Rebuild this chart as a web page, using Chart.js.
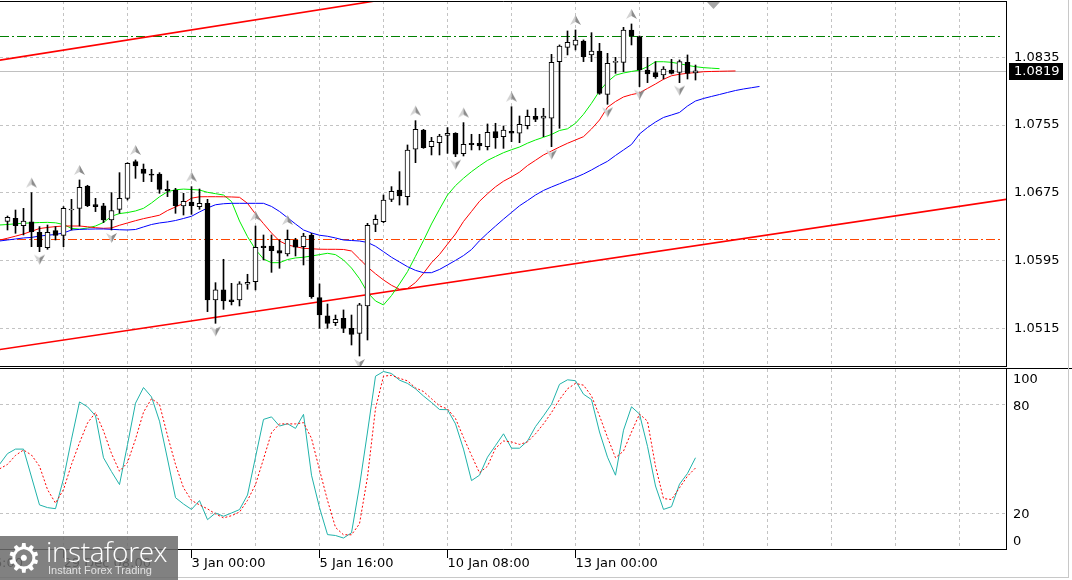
<!DOCTYPE html>
<html>
<head>
<meta charset="utf-8">
<script src="https://cdn.jsdelivr.net/npm/chart.js@4.4.0/dist/chart.umd.min.js"></script>
<style>
  html, body { margin: 0; padding: 0; background: #fff; }
  #wrap { position: relative; width: 1072px; height: 580px; overflow: hidden; background: #fff; }
  #main { position: absolute; left: 0; top: 0; }
  #stoch { position: absolute; left: 0; top: 368px; }
  #edgeR { position: absolute; left: 1068px; top: 0; width: 1px; height: 578px; background: #c8c8c8; }
  #edgeB { position: absolute; left: 0; top: 577px; width: 1069px; height: 1px; background: #c8c8c8; }
  #logo { position: absolute; left: 0; top: 536px; width: 178px; height: 44px; background: rgba(108, 108, 108, 0.86); color: #fff; }
  #logo span { position: absolute; white-space: nowrap; }
  #logo .gear { left: 6px; top: 2px; font: 40px/40px 'DejaVu Sans'; }
  #logo .big { left: 46px; top: 1px; font: 300 28px/28px 'Open Sans'; letter-spacing: -0.4px; }
  #logo .small { left: 48px; top: 29px; font: 11px/11px 'Liberation Sans'; color: #e2e2e2; }
</style>
</head>
<body>
<div id="wrap">
  <canvas id="main" width="1072" height="368"></canvas>
  <canvas id="stoch" width="1072" height="212"></canvas>
  <div id="edgeR"></div>
  <div id="edgeB"></div>
  <div id="logo"><span class="gear">⚙</span><span class="big">instaforex</span><span class="small">Instant Forex Trading</span></div>
</div>
<script>
// EURUSD H4 - candles, Alligator, Fractals, Stochastic

// candles, bar 0 .. 86
const opens = [1.06413, 1.06449, 1.06362, 1.06406, 1.06284, 1.06103, 1.06303, 1.06248, 1.06547, 1.06567,
  1.06831, 1.06610, 1.06595, 1.06429, 1.06555, 1.06685, 1.07118, 1.07031, 1.06972, 1.06972,
  1.06791, 1.06783, 1.06595, 1.06642, 1.06587, 1.06626, 1.05485, 1.05603, 1.05485, 1.05485,
  1.05670, 1.05701, 1.06122, 1.06122, 1.06067, 1.06028, 1.06193, 1.06114, 1.06252, 1.05512,
  1.05296, 1.05217, 1.05268, 1.05150, 1.05091, 1.05414, 1.06378, 1.06410, 1.06673, 1.06783,
  1.06705, 1.07264, 1.07492, 1.07295, 1.07342, 1.07429, 1.07453, 1.07213, 1.07335, 1.07335,
  1.07295, 1.07472, 1.07413, 1.07476, 1.07453, 1.07543, 1.07653, 1.07630, 1.07630, 1.08299,
  1.08468, 1.08492, 1.08543, 1.08378, 1.08425, 1.07913, 1.08291, 1.08291, 1.08673, 1.08594,
  1.08200, 1.08169, 1.08141, 1.08200, 1.08173, 1.08291, 1.08165];
const highs = [1.06476, 1.06547, 1.06567, 1.06752, 1.06351, 1.06370, 1.06351, 1.06587, 1.06673, 1.06902,
  1.06839, 1.06685, 1.06626, 1.06752, 1.06988, 1.07106, 1.07138, 1.07090, 1.07027, 1.06988,
  1.06890, 1.06803, 1.06744, 1.06823, 1.06795, 1.06673, 1.05689, 1.05965, 1.05681, 1.05701,
  1.05788, 1.06358, 1.06252, 1.06252, 1.06193, 1.06311, 1.06213, 1.06272, 1.06272, 1.05674,
  1.05437, 1.05307, 1.05367, 1.05307, 1.05445, 1.06390, 1.06488, 1.06724, 1.06823, 1.07000,
  1.07315, 1.07602, 1.07500, 1.07405, 1.07441, 1.07520, 1.07460, 1.07579, 1.07441, 1.07441,
  1.07563, 1.07571, 1.07539, 1.07767, 1.07657, 1.07728, 1.07748, 1.07748, 1.08385, 1.08496,
  1.08661, 1.08673, 1.08555, 1.08641, 1.08515, 1.08397, 1.08350, 1.08704, 1.08744, 1.08602,
  1.08350, 1.08299, 1.08240, 1.08326, 1.08319, 1.08378, 1.08259];
const lows = [1.06311, 1.06272, 1.06252, 1.06114, 1.06055, 1.06083, 1.06193, 1.06114, 1.06311, 1.06358,
  1.06587, 1.06528, 1.06398, 1.06311, 1.06508, 1.06665, 1.06921, 1.06882, 1.06882, 1.06744,
  1.06705, 1.06508, 1.06488, 1.06496, 1.06555, 1.05347, 1.05209, 1.05374, 1.05426, 1.05414,
  1.05611, 1.05603, 1.05957, 1.05811, 1.05859, 1.06004, 1.06004, 1.05898, 1.05504, 1.05150,
  1.05150, 1.05182, 1.05099, 1.04953, 1.04823, 1.05012, 1.06291, 1.06398, 1.06646, 1.06606,
  1.06606, 1.07106, 1.07275, 1.07197, 1.07197, 1.07216, 1.07177, 1.07185, 1.07256, 1.07256,
  1.07256, 1.07275, 1.07275, 1.07354, 1.07342, 1.07504, 1.07590, 1.07413, 1.07295, 1.07512,
  1.08378, 1.08437, 1.08299, 1.08299, 1.07913, 1.07795, 1.08161, 1.08181, 1.08496, 1.08004,
  1.08051, 1.08102, 1.08094, 1.08153, 1.08051, 1.08094, 1.08082];
const closes = [1.06461, 1.06362, 1.06417, 1.06291, 1.06114, 1.06284, 1.06248, 1.06567, 1.06559, 1.06815,
  1.06598, 1.06587, 1.06429, 1.06539, 1.06685, 1.07098, 1.07067, 1.06980, 1.06957, 1.06791,
  1.06776, 1.06598, 1.06650, 1.06598, 1.06626, 1.05485, 1.05603, 1.05473, 1.05465, 1.05674,
  1.05693, 1.06107, 1.06103, 1.06067, 1.06036, 1.06201, 1.06107, 1.06240, 1.05524, 1.05307,
  1.05209, 1.05256, 1.05150, 1.05079, 1.05426, 1.06366, 1.06437, 1.06665, 1.06768, 1.06713,
  1.07256, 1.07500, 1.07283, 1.07358, 1.07421, 1.07453, 1.07205, 1.07323, 1.07319, 1.07303,
  1.07464, 1.07401, 1.07492, 1.07453, 1.07559, 1.07653, 1.07618, 1.07657, 1.08291, 1.08484,
  1.08527, 1.08555, 1.08358, 1.08425, 1.07925, 1.08279, 1.08299, 1.08673, 1.08602, 1.08200,
  1.08153, 1.08122, 1.08212, 1.08161, 1.08299, 1.08161, 1.08189];

// Alligator lines, already shifted forward; first point sits at bar -1
const lineStart = -1;
const lips = [1.06370, 1.06376, 1.06384, 1.06391, 1.06395, 1.06399, 1.06401, 1.06396, 1.06376, 1.06330,
  1.06321, 1.06335, 1.06358, 1.06400, 1.06473, 1.06505, 1.06517, 1.06536, 1.06567, 1.06630,
  1.06703, 1.06763, 1.06786, 1.06794, 1.06789, 1.06783, 1.06756, 1.06740, 1.06724, 1.06648,
  1.06417, 1.06232, 1.06080, 1.05969, 1.05925, 1.05925, 1.05962, 1.05981, 1.05989, 1.06004,
  1.06020, 1.06036, 1.06020, 1.05957, 1.05862, 1.05736, 1.05573, 1.05473, 1.05426, 1.05537,
  1.05674, 1.05819, 1.06001, 1.06187, 1.06382, 1.06556, 1.06724, 1.06835, 1.06922, 1.07000,
  1.07069, 1.07133, 1.07179, 1.07224, 1.07259, 1.07291, 1.07336, 1.07374, 1.07406, 1.07439,
  1.07486, 1.07506, 1.07571, 1.07677, 1.07807, 1.07952, 1.08061, 1.08139, 1.08165, 1.08183,
  1.08198, 1.08239, 1.08298, 1.08298, 1.08291, 1.08275, 1.08255, 1.08239, 1.08228, 1.08222,
  1.08216];
const teeth = [1.06191, 1.06214, 1.06238, 1.06264, 1.06296, 1.06328, 1.06341, 1.06351, 1.06358, 1.06358,
  1.06358, 1.06349, 1.06338, 1.06331, 1.06335, 1.06367, 1.06394, 1.06421, 1.06445, 1.06465,
  1.06486, 1.06541, 1.06583, 1.06626, 1.06687, 1.06703, 1.06704, 1.06704, 1.06703, 1.06701,
  1.06697, 1.06626, 1.06500, 1.06386, 1.06276, 1.06181, 1.06134, 1.06114, 1.06095, 1.06089,
  1.06084, 1.06083, 1.06083, 1.06081, 1.06063, 1.05969, 1.05874, 1.05794, 1.05721, 1.05658,
  1.05611, 1.05620, 1.05691, 1.05800, 1.05925, 1.06022, 1.06144, 1.06264, 1.06412, 1.06530,
  1.06650, 1.06739, 1.06821, 1.06887, 1.06938, 1.06994, 1.07072, 1.07134, 1.07197, 1.07244,
  1.07291, 1.07335, 1.07374, 1.07413, 1.07504, 1.07610, 1.07760, 1.07828, 1.07882, 1.07910,
  1.07929, 1.07983, 1.08035, 1.08091, 1.08132, 1.08150, 1.08161, 1.08170, 1.08180, 1.08183,
  1.08185, 1.08187, 1.08189];
const jaw = [1.06181, 1.06193, 1.06205, 1.06217, 1.06223, 1.06240, 1.06249, 1.06258, 1.06276, 1.06311,
  1.06318, 1.06321, 1.06323, 1.06323, 1.06319, 1.06314, 1.06311, 1.06317, 1.06347, 1.06376,
  1.06394, 1.06406, 1.06423, 1.06447, 1.06473, 1.06524, 1.06571, 1.06609, 1.06621, 1.06626,
  1.06626, 1.06626, 1.06626, 1.06626, 1.06589, 1.06530, 1.06456, 1.06382, 1.06311, 1.06276,
  1.06249, 1.06237, 1.06217, 1.06193, 1.06187, 1.06181, 1.06164, 1.06119, 1.06055, 1.05989,
  1.05933, 1.05878, 1.05834, 1.05807, 1.05807, 1.05845, 1.05898, 1.05952, 1.06009, 1.06080,
  1.06184, 1.06273, 1.06357, 1.06439, 1.06518, 1.06597, 1.06659, 1.06724, 1.06778, 1.06819,
  1.06857, 1.06896, 1.06931, 1.06972, 1.07020, 1.07073, 1.07122, 1.07191, 1.07256, 1.07321,
  1.07445, 1.07521, 1.07586, 1.07640, 1.07669, 1.07699, 1.07775, 1.07834, 1.07864, 1.07888,
  1.07911, 1.07935, 1.07958, 1.07976, 1.07991, 1.08006];

// Stochastic, bar -1 .. 86
const stochMain = [47, 53, 55.5, 55.5, 40, 24.5, 23, 22.4, 39, 61,
  81.7, 79, 74, 50.7, 43, 35.8, 58, 81, 89.7, 84.5,
  71, 50, 28.5, 25, 22, 26.9, 16.3, 20, 18.2, 20,
  21.9, 30, 51, 72, 73.4, 68.3, 69.6, 67, 74.8, 41,
  23, 8, 7.5, 6.1, 9, 35, 65, 96, 98.6, 97.5,
  93.8, 92, 89, 85, 81.4, 77.5, 77.4, 69.5, 55.5, 38,
  41, 51, 57.5, 64, 56, 56, 60, 68, 74, 80.4,
  91.5, 94, 93.5, 86, 83, 65, 51, 41, 66, 79,
  75, 57, 35, 22, 23.5, 36, 42, 50.7];
const stochSignal = [44.5, 47, 52, 55, 52.2, 46, 33, 25.5, 33, 47,
  59, 70, 75.8, 65.6, 53, 43.2, 48, 61, 76, 83.5,
  80.4, 63, 47, 34, 27, 24.5, 22.3, 19.5, 17.3, 18.5,
  20.5, 27, 35.8, 50, 64.6, 69.5, 69.5, 69.5, 70.2, 61.5,
  44, 27, 12, 7.9, 7.9, 14, 40, 78, 96, 96.5,
  94.8, 93.4, 89.5, 87.5, 83.5, 79.5, 77.8, 72.5, 62, 52,
  42.3, 46, 56, 60, 59.5, 58.1, 59.5, 64, 69.5, 75.8,
  83, 89, 92, 91, 85, 74, 62, 50.7, 54.4, 65,
  75, 71, 46, 28, 27.5, 34, 40.5, 45];

// fractal bars
const fractalUp = [3, 9, 16, 23, 31, 35, 51, 57, 63, 71, 78];
const fractalDown = [4, 13, 26, 44, 56, 68, 75, 79, 84];

// trend channel anchors [bar, price]
const upperTrend = [[-1, 1.08316], [47, 1.09031]];
const lowerTrend = [[-1, 1.04899], [125, 1.06675]];

// horizontal levels
const levelGreen = 1.0860;
const levelRed = 1.0620;

const priceTicks = [1.0515, 1.0595, 1.0675, 1.0755, 1.0835];
const stochLevels = [0, 20, 80, 100];
const gridIdx = [7, 15, 23, 31, 39, 47, 55, 63, 71, 79, 87, 95, 103, 111, 119];
const timeIdx = [-9, 7, 23, 39, 55, 71];
const timeText = ['26 Dec 16:00', '29 Dec 08:00', '3 Jan 00:00', '5 Jan 16:00', '10 Jan 08:00', '13 Jan 00:00'];
const shiftIdx = 88.25;

const xMin = -0.9375, xMax = 124.8125;
const yMin = 1.04705, yMax = 1.09015;

const gridColor = '#c3c3c3';
const axisFont = { family: 'DejaVu Sans', size: 13 };

const series = (start, vals) => vals.map((v, i) => ({ x: start + i, y: v }));
const bars = opens.map((o, i) => i);

function arrowCanvas(up) {
  const c = document.createElement('canvas');
  c.width = 13; c.height = 40;
  const g = c.getContext('2d');
  g.translate(6.5, up ? 10 : 28);
  if (!up) g.scale(1, -1);
  g.beginPath(); g.moveTo(0, -5); g.lineTo(-5.5, 5); g.lineTo(0, 2); g.closePath();
  g.fillStyle = '#d2d2d2'; g.fill();
  g.beginPath(); g.moveTo(0, -5); g.lineTo(5.5, 5); g.lineTo(0, 2); g.closePath();
  g.fillStyle = '#8c8c8c'; g.fill();
  return c;
}

const hideAxisPad = s => { s.paddingLeft = 0; s.paddingRight = 0; s.paddingTop = 0; s.paddingBottom = 0; };

// main window decorations
const mainDecor = {
  id: 'mainDecor',
  beforeDatasetsDraw(chart) {
    const { ctx, chartArea: a, scales: { y } } = chart;
    ctx.save();
    ctx.beginPath(); ctx.rect(a.left, a.top, a.right - a.left, a.bottom - a.top); ctx.clip();
    ctx.lineWidth = 1;
    [[levelGreen, '#008000'], [levelRed, '#ff4500']].forEach(([v, col]) => {
      const py = Math.round(y.getPixelForValue(v)) + 0.5;
      ctx.strokeStyle = col;
      ctx.setLineDash([9, 3, 2, 3]);
      ctx.beginPath(); ctx.moveTo(a.left, py); ctx.lineTo(a.right - 6, py); ctx.stroke();
    });
    ctx.setLineDash([]);
    const bid = Math.round(y.getPixelForValue(closes[closes.length - 1])) + 0.5;
    ctx.strokeStyle = '#c0c0c0';
    ctx.beginPath(); ctx.moveTo(a.left, bid); ctx.lineTo(a.right, bid); ctx.stroke();
    ctx.restore();
  },
  afterDraw(chart) {
    const { ctx, chartArea: a, scales: { x, y } } = chart;
    ctx.save();
    ctx.strokeStyle = '#000'; ctx.lineWidth = 1;
    ctx.beginPath();
    ctx.moveTo(0, a.top + 0.5); ctx.lineTo(a.right + 0.5, a.top + 0.5);
    ctx.moveTo(a.right + 0.5, a.top); ctx.lineTo(a.right + 0.5, a.bottom + 1);
    ctx.moveTo(0, a.bottom + 0.5); ctx.lineTo(a.right + 0.5, a.bottom + 0.5);
    ctx.stroke();
    // chart shift marker
    const sx = x.getPixelForValue(shiftIdx);
    ctx.fillStyle = '#a8a8a8';
    ctx.beginPath(); ctx.moveTo(sx - 6.5, a.top + 1); ctx.lineTo(sx + 6.5, a.top + 1); ctx.lineTo(sx, a.top + 8); ctx.closePath(); ctx.fill();
    // last price box
    const last = closes[closes.length - 1];
    const py = Math.round(y.getPixelForValue(last));
    ctx.fillStyle = '#000';
    ctx.fillRect(a.right + 3, py - 8, 54, 17);
    ctx.fillStyle = '#fff';
    ctx.font = "13px 'DejaVu Sans'";
    ctx.textBaseline = 'middle';
    ctx.fillText(last.toFixed(4), a.right + 8, py + 1);
    ctx.restore();
  }
};

const stochDecor = {
  id: 'stochDecor',
  afterDraw(chart) {
    const { ctx, chartArea: a, scales: { y } } = chart;
    ctx.save();
    ctx.strokeStyle = '#000'; ctx.lineWidth = 1;
    ctx.beginPath();
    ctx.moveTo(0, 0.5); ctx.lineTo(chart.width, 0.5);
    ctx.moveTo(a.right + 0.5, 0); ctx.lineTo(a.right + 0.5, a.bottom + 1);
    ctx.moveTo(0, a.bottom + 0.5); ctx.lineTo(a.right + 0.5, a.bottom + 0.5);
    ctx.stroke();
    ctx.fillStyle = '#000';
    ctx.font = "13px 'DejaVu Sans'";
    ctx.textBaseline = 'middle';
    stochLevels.forEach(v => {
      const py = Math.min(Math.max(y.getPixelForValue(v), a.top + 9), a.bottom - 9);
      ctx.fillText(String(v), a.right + 7, py + 2);
    });
    ctx.restore();
  }
};

new Chart(document.getElementById('main'), {
  type: 'line',
  data: {
    datasets: [
      { type: 'bar', data: bars.map(i => ({ x: i, y: [lows[i], highs[i]] })), backgroundColor: '#000',
        barThickness: 1, grouped: false, order: 2 },
      { type: 'bar', data: bars.map(i => ({ x: i, y: [opens[i], closes[i]] })),
        backgroundColor: bars.map(i => closes[i] >= opens[i] ? '#ffffff' : '#000000'),
        borderColor: '#000', borderWidth: 1, borderSkipped: false, barThickness: 5, minBarLength: 1,
        grouped: false, order: 1 },
      { data: series(lineStart, jaw), borderColor: '#0000ff', borderWidth: 1, pointRadius: 0, order: 6 },
      { data: series(lineStart, teeth), borderColor: '#ff0000', borderWidth: 1, pointRadius: 0, order: 6 },
      { data: series(lineStart, lips), borderColor: '#00ee00', borderWidth: 1, pointRadius: 0, order: 6 },
      { data: upperTrend.map(([x, y]) => ({ x, y })), borderColor: '#ff0000', borderWidth: 1.6, pointRadius: 0, order: 7 },
      { data: lowerTrend.map(([x, y]) => ({ x, y })), borderColor: '#ff0000', borderWidth: 1.6, pointRadius: 0, order: 7 },
      { data: fractalUp.map(i => ({ x: i, y: highs[i] })), showLine: false, pointStyle: arrowCanvas(true), pointRadius: 5, order: 0 },
      { data: fractalDown.map(i => ({ x: i, y: lows[i] })), showLine: false, pointStyle: arrowCanvas(false), pointRadius: 5, order: 0 }
    ]
  },
  options: {
    responsive: false, animation: false, devicePixelRatio: 1, events: [],
    layout: { autoPadding: false, padding: { top: 1, bottom: 2, left: 0, right: 0 } },
    plugins: { legend: { display: false }, tooltip: { enabled: false } },
    elements: { line: { tension: 0 } },
    scales: {
      x: {
        type: 'linear', min: xMin, max: xMax, offset: false,
        afterBuildTicks: s => { s.ticks = gridIdx.map(v => ({ value: v })); },
        afterFit: s => { s.height = 0; hideAxisPad(s); },
        ticks: { display: false },
        grid: { color: gridColor, drawTicks: false, offset: false },
        border: { display: false, dash: [3, 3] }
      },
      y: {
        position: 'right', min: yMin, max: yMax,
        afterBuildTicks: s => { s.ticks = priceTicks.map(v => ({ value: v })); },
        afterFit: s => { s.width = 66; hideAxisPad(s); },
        ticks: { color: '#000', font: axisFont, padding: 8, callback: v => v.toFixed(4) },
        grid: { color: gridColor, drawTicks: false },
        border: { display: false, dash: [3, 3] }
      }
    }
  },
  plugins: [mainDecor]
});

new Chart(document.getElementById('stoch'), {
  type: 'line',
  data: {
    datasets: [
      { data: series(lineStart, stochSignal), borderColor: '#ff0000', borderWidth: 1, borderDash: [2, 2], pointRadius: 0 },
      { data: series(lineStart, stochMain), borderColor: '#20b2aa', borderWidth: 1, pointRadius: 0 }
    ]
  },
  options: {
    responsive: false, animation: false, devicePixelRatio: 1, events: [],
    layout: { autoPadding: false, padding: { top: 1, bottom: 0, left: 0, right: 0 } },
    plugins: { legend: { display: false }, tooltip: { enabled: false } },
    elements: { line: { tension: 0 } },
    scales: {
      x: {
        type: 'linear', min: xMin, max: xMax, offset: false,
        afterBuildTicks: s => { s.ticks = [-9].concat(gridIdx).map(v => ({ value: v })); },
        afterFit: s => { s.height = 31; hideAxisPad(s); },
        ticks: {
          autoSkip: false, maxRotation: 0, minRotation: 0, align: 'start', padding: -2, labelOffset: 0,
          color: '#000', font: axisFont,
          callback: v => { const i = timeIdx.indexOf(v); return i < 0 ? '' : timeText[i]; }
        },
        grid: {
          color: gridColor, tickLength: 9, offset: false,
          tickColor: c => (c.tick && timeIdx.includes(c.tick.value)) ? '#000' : 'rgba(0,0,0,0)'
        },
        border: { display: false, dash: [3, 3] }
      },
      y: {
        position: 'right', min: 0, max: 100,
        afterBuildTicks: s => { s.ticks = [{ value: 20 }, { value: 80 }]; },
        afterFit: s => { s.width = 66; hideAxisPad(s); },
        ticks: { display: false },
        grid: { color: gridColor, drawTicks: false },
        border: { display: false, dash: [3, 3] }
      }
    }
  },
  plugins: [stochDecor]
});
</script>
</body>
</html>
